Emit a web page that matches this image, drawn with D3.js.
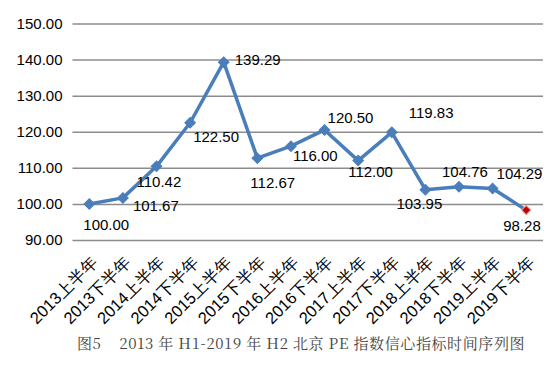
<!DOCTYPE html>
<html>
<head>
<meta charset="utf-8">
<script src="https://cdn.jsdelivr.net/npm/d3@7"></script>
<style>
  body { margin: 0; background: #fff; }
  svg text { font-family: "Liberation Sans", Arial, sans-serif; }
</style>
</head>
<body>
<svg id="chart" width="550" height="367"></svg>
<script>
// data
var periods = ["2013上半年", "2013下半年", "2014上半年", "2014下半年", "2015上半年", "2015下半年",
  "2016上半年", "2016下半年", "2017上半年", "2017下半年", "2018上半年", "2018下半年",
  "2019上半年", "2019下半年"];
var values = [100.00, 101.67, 110.42, 122.50, 139.29, 112.67, 116.00, 120.50, 112.00, 119.83,
  103.95, 104.76, 104.29, 98.28];
var yTicks = [90, 100, 110, 120, 130, 140, 150];
var caption = "图5\u00a0\u00a0\u00a0 2013 年 H1-2019 年 H2 北京 PE 指数信心指标时间序列图";

// where each value label sits relative to its point (dx, dy of text start / baseline)
var labelOffsets = [[-6, 26], [10, 13], [-20, 21], [3, 19], [11, 3], [-7, 30], [2, 15], [3, -7],
  [-10, 16], [17, -14], [-29, 19], [-17, -10], [4, -9], [-23, 21]];

var svg = d3.select("#chart");
var margin = {left: 72.5, right: 7, top: 23.5, bottom: 127};
var W = 550, H = 367;

var x = d3.scalePoint()
  .domain(periods)
  .range([margin.left, W - margin.right])
  .padding(0.5);

var y = d3.scaleLinear()
  .domain([90, 150])
  .range([H - margin.bottom, margin.top]);

// gridlines + y labels
var yAxis = svg.append("g")
  .attr("transform", "translate(" + margin.left + ",0)")
  .call(d3.axisLeft(y).tickValues(yTicks).tickSize(-(W - margin.left - margin.right))
    .tickFormat(d3.format(".2f")).tickPadding(10));
yAxis.select(".domain").remove();
yAxis.selectAll("line").attr("stroke", "#8c8c8c").attr("stroke-width", 1.5);
yAxis.selectAll("text").attr("font-size", "15px").attr("fill", "#000")
  .attr("font-family", "'Liberation Sans', Arial, sans-serif");

// x labels, rotated
var xAxis = svg.append("g")
  .attr("transform", "translate(0," + (H - margin.bottom) + ")")
  .call(d3.axisBottom(x).tickSize(0).tickPadding(0));
xAxis.select(".domain").remove();
xAxis.selectAll("text")
  .attr("font-size", "16.5px").attr("fill", "#000")
  .attr("font-family", "'Liberation Sans', Arial, 'Noto Sans CJK SC', sans-serif")
  .attr("text-anchor", "end")
  .attr("dy", 0)
  .attr("transform", "translate(9,23) rotate(-45)");

// series line
var line = d3.line()
  .x(function(d, i) { return x(periods[i]); })
  .y(function(d) { return y(d); });

svg.append("path")
  .datum(values)
  .attr("fill", "none")
  .attr("stroke", "#4a7ebb")
  .attr("stroke-width", 3.5)
  .attr("stroke-linejoin", "round")
  .attr("d", line);

svg.selectAll("path.marker")
  .data(values)
  .enter().append("path")
  .attr("class", "marker")
  .attr("d", function(d, i) {
    return d3.symbol().type(d3.symbolSquare).size(i === values.length - 1 ? 42 : 56)();
  })
  .attr("transform", function(d, i) {
    return "translate(" + x(periods[i]) + "," + y(d) + ") rotate(45)";
  })
  .attr("fill", function(d, i) { return i === values.length - 1 ? "#c00000" : "#4a7ebb"; })
  .attr("stroke", function(d, i) { return i === values.length - 1 ? "#e8a0a0" : "#4a7ebb"; })
  .attr("stroke-width", 1);

// value labels
svg.selectAll("text.val")
  .data(values)
  .enter().append("text")
  .attr("class", "val")
  .attr("x", function(d, i) { return x(periods[i]) + labelOffsets[i][0]; })
  .attr("y", function(d, i) { return y(d) + labelOffsets[i][1]; })
  .attr("font-size", "15px")
  .attr("fill", "#000")
  .text(function(d) { return d.toFixed(2); });

// caption
svg.append("text")
  .attr("x", 77)
  .attr("y", 349)
  .attr("font-size", "15px")
  .attr("letter-spacing", "0.6px")
  .attr("fill", "#444")
  .style("font-family", "'Noto Serif CJK SC', 'DejaVu Serif', 'Noto Sans CJK SC', serif")
  .text(caption);
</script>
</body>
</html>
